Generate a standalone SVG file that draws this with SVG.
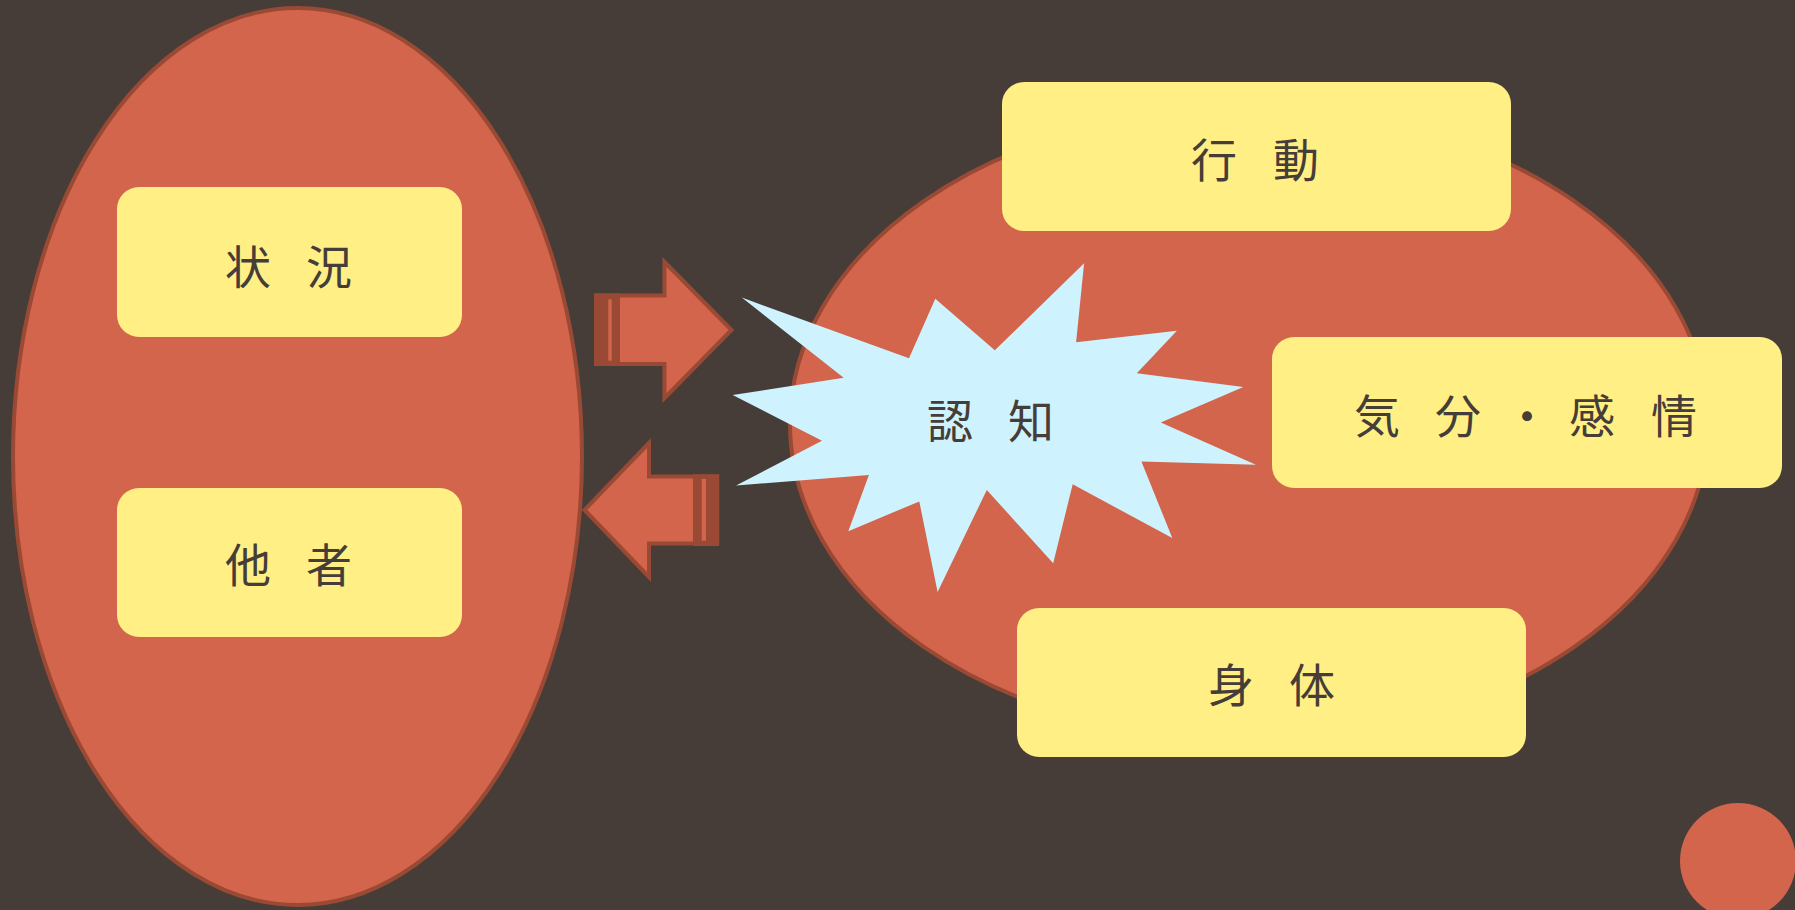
<svg xmlns="http://www.w3.org/2000/svg" width="1795" height="910" viewBox="0 0 1795 910">
<defs>
<style>
.bg{fill:#463d38}
.oval{fill:#d2654b;stroke:#9a4a34;stroke-width:4}
.arrow{fill:#d2654b;stroke:#9a4a34;stroke-width:4;stroke-linejoin:miter;stroke-miterlimit:10}
.band{fill:#9a4a34}
.stripe{fill:#d2654b}
.box{fill:#ffef85}
.burst{fill:#cff3fe}
.lbl{font-family:"Noto Sans CJK JP","Noto Sans CJK SC",sans-serif;font-size:46px;fill:#463d38}
</style>
</defs>
<rect class="bg" x="0" y="0" width="1795" height="910"/>

<g id="env-oval">
<ellipse class="oval" cx="297.5" cy="456.5" rx="284.5" ry="448.5"/>
</g>
<g id="self-oval">
<ellipse class="oval" cx="1249" cy="424" rx="459" ry="316"/>
</g>

<g id="connectors">
<g id="arrow-right">
<polygon class="arrow" points="596,295.5 664.5,295.5 664.5,262 731.5,330 664.5,398 664.5,364 596,364"/>
<rect class="band" x="594" y="293.5" width="26" height="72.5"/>
<rect class="stripe" x="608.3" y="299.3" width="3.4" height="61.4"/>
</g>
<g id="arrow-left">
<polygon class="arrow" points="717,476.5 649,476.5 649,443 584.5,510 649,577 649,543.5 717,543.5"/>
<rect class="band" x="693" y="474.3" width="26.3" height="71.7"/>
<rect class="stripe" x="701.7" y="479" width="4.3" height="61.7"/>
</g>
</g>

<g id="node-situation">
<rect class="box" x="117" y="187" width="345" height="150" rx="22"/>
<text class="lbl" x="225 306" y="284">状況</text>
</g>
<g id="node-others">
<rect class="box" x="117" y="488" width="345" height="149" rx="22"/>
<text class="lbl" x="225 306" y="582">他者</text>
</g>

<g id="node-cognition">
<polygon class="burst" points="741.8,297.6 909,358.3 935.3,298.8 994.8,350.3 1084.1,263.3 1076.1,342.3 1176.9,330.8 1136.8,373.2 1243.3,386.9 1160.8,422.4 1255.9,464.8 1141.4,461.4 1172.3,538.1 1072.7,484.3 1053.2,563.2 986.8,490 937.6,591.9 919.3,501.4 848.3,531.2 868.9,475.1 736.1,485.4 822,440.7 732.7,395 843.7,377.8"/>
<text class="lbl" x="927 1008" y="438">認知</text>
</g>

<g id="node-behavior">
<rect class="box" x="1002" y="82" width="509" height="149" rx="22"/>
<text class="lbl" x="1191 1273" y="177">行動</text>
</g>
<g id="node-emotion">
<rect class="box" x="1272" y="337" width="510" height="151" rx="22"/>
<text class="lbl" x="1354 1435 1504 1569 1651" y="433">気分・感情</text>
</g>
<g id="node-body">
<rect class="box" x="1017" y="608" width="509" height="149" rx="22"/>
<text class="lbl" x="1208 1289" y="702">身体</text>
</g>

<g id="corner-dot">
<circle cx="1738" cy="861" r="58" fill="#d2654b"/>
</g>
</svg>
